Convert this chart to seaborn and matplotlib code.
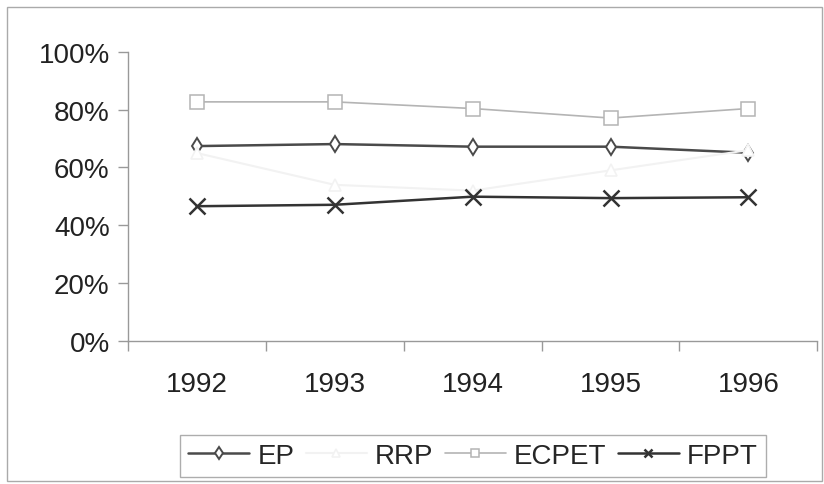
import numpy as np
import pandas as pd
import matplotlib
matplotlib.use("Agg")
import matplotlib.pyplot as plt
from matplotlib.patches import Rectangle
from matplotlib.ticker import FixedLocator, PercentFormatter
import seaborn as sns

years = ["1992", "1993", "1994", "1995", "1996"]
ep = [67.4, 68.1, 67.2, 67.2, 65.1]
rrp = [65, 54, 52, 59, 66]
ecpet = [82.7, 82.7, 80.4, 77.1, 80.4]
fppt = [46.6, 47.1, 49.9, 49.4, 49.7]

series = ["EP", "RRP", "ECPET", "FPPT"]
values = [ep, rrp, ecpet, fppt]
colors = ["#4a4a4a", "#f2f2f2", "#b4b4b4", "#333333"]
markers = ["d", "^", "s", "x"]
msizes = [8, 8, 10, 11]
lwidths = [1.8, 1.5, 1.2, 1.8]
mewidths = [1.4, 1.2, 1.1, 1.8]

sns.set_theme(style="white")
plt.rcParams["font.family"] = ["Liberation Sans", "DejaVu Sans"]

fig = plt.figure(figsize=(8.24, 4.85), dpi=100)
ax = fig.add_axes([0.155, 0.295, 0.837, 0.596])

pos = np.arange(len(years))
for name, vals, c, m, ms, lw, mew in zip(series, values, colors, markers, msizes, lwidths, mewidths):
    df = pd.DataFrame({"pos": pos, "val": vals})
    sns.lineplot(data=df, x="pos", y="val", ax=ax, color=c, marker=m,
                 markersize=ms, markerfacecolor="white", markeredgecolor=c,
                 markeredgewidth=mew, linewidth=lw, label=name)

ax.set_xlim(-0.5, 4.5)
ax.set_ylim(0, 100)
ax.set_yticks([0, 20, 40, 60, 80, 100])
ax.yaxis.set_major_formatter(PercentFormatter(decimals=0))
ax.set_xticks(pos)
ax.set_xticklabels(years)
ax.xaxis.set_minor_locator(FixedLocator(np.arange(-0.5, 5, 1)))
ax.tick_params(axis="x", which="major", length=0, pad=22, labelsize=20, colors="#222222")
ax.tick_params(axis="x", which="minor", length=7, width=1, color="#999999", bottom=True)
ax.tick_params(axis="y", length=7, width=1, color="#999999", pad=6, labelsize=20, labelcolor="#222222", left=True)
ax.set_xlabel("")
ax.set_ylabel("")
for s in ["top", "right"]:
    ax.spines[s].set_visible(False)
for s in ["left", "bottom"]:
    ax.spines[s].set_color("#999999")
    ax.spines[s].set_linewidth(1)

leg = ax.legend(loc="center", bbox_to_anchor=(0.574, 0.058), bbox_transform=fig.transFigure,
                ncol=4, fontsize=20, frameon=True, fancybox=False, handlelength=2.2,
                handletextpad=0.3, columnspacing=0.4, borderpad=0.3)
leg.get_frame().set_edgecolor("#999999")
leg.get_frame().set_linewidth(1)
for h in leg.legend_handles:
    h.set_markersize(6)

fig.patches.append(Rectangle((7 / 824, 3 / 485), 815 / 824, 474 / 485, transform=fig.transFigure,
                             fill=False, edgecolor="#aaaaaa", linewidth=1))

fig.savefig("out.png", dpi=100)
